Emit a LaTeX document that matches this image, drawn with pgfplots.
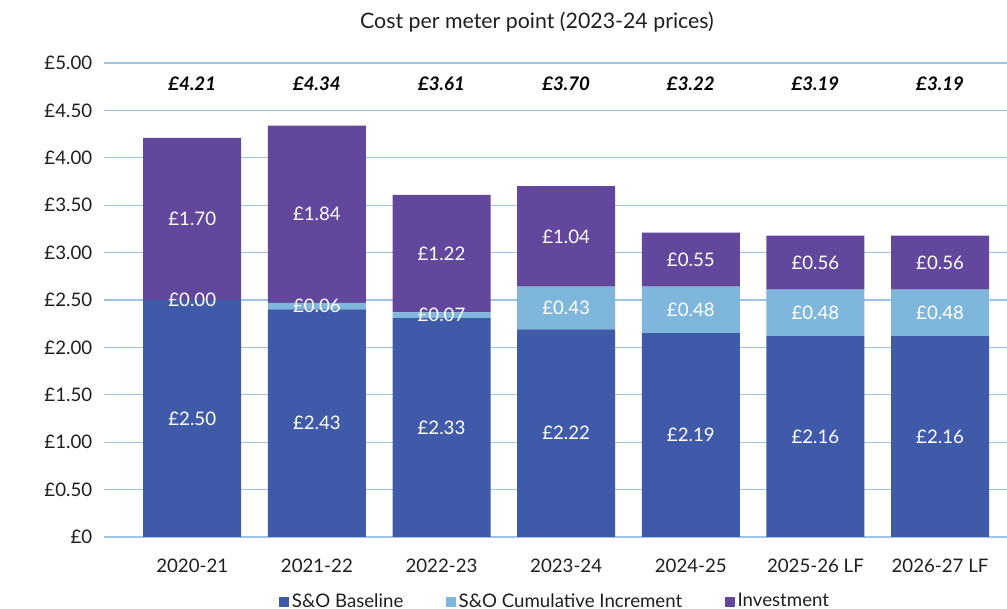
\documentclass[border=0pt]{standalone}
\usepackage{fontspec}
\setmainfont{Lato}
\usepackage{pgfplots}
\pgfplotsset{compat=1.18}
\definecolor{cBase}{RGB}{63,90,168}
\definecolor{cInc}{RGB}{127,182,219}
\definecolor{cInv}{RGB}{98,71,156}
\definecolor{cGrid}{RGB}{157,195,230}
\definecolor{cText}{RGB}{30,30,30}

\pgfplotstableread{
x base inc inv
0 2.50 0.00 1.71
1 2.40 0.07 1.87
2 2.31 0.06 1.24
3 2.19 0.45 1.06
4 2.15 0.49 0.57
5 2.12 0.49 0.57
6 2.12 0.49 0.57
}\costdata

\pgfplotstableread{
x y lab
0 1.250 £2.50
1 1.200 £2.43
2 1.155 £2.33
3 1.095 £2.22
4 1.075 £2.19
5 1.060 £2.16
6 1.060 £2.16
0 2.500 £0.00
1 2.435 £0.06
2 2.340 £0.07
3 2.415 £0.43
4 2.395 £0.48
5 2.365 £0.48
6 2.365 £0.48
0 3.355 £1.70
1 3.405 £1.84
2 2.990 £1.22
3 3.170 £1.04
4 2.925 £0.55
5 2.895 £0.56
6 2.895 £0.56
}\seglabels

\pgfplotstableread{
x y lab
0 4.78 £4.21
1 4.78 £4.34
2 4.78 £3.61
3 4.78 £3.70
4 4.78 £3.22
5 4.78 £3.19
6 4.78 £3.19
}\totlabels

\newcommand{\fsz}{\fontsize{14pt}{17pt}\selectfont}
\pgfplotsset{
  common/.style={
    at={(78pt,54pt)}, anchor=south west,
    width=677.25pt, height=355.5pt, scale only axis,
    xmin=-0.708, xmax=6.537, ymin=0, ymax=5,
    tick label style={font=\fsz},
  }
}

\begin{document}
\fsz
\color{cText}
\begin{tikzpicture}[font=\fsz]
\useasboundingbox (0,0) rectangle (755.25pt,456.75pt);
\begin{axis}[common,
  ybar stacked, bar width=73.5pt,
  axis line style={draw=none},
  major tick length=0pt,
  ymajorgrids, grid style={cGrid, line width=0.9pt},
  ytick={0,0.5,...,5},
  yticklabels={£0,£0.50,£1.00,£1.50,£2.00,£2.50,£3.00,£3.50,£4.00,£4.50,£5.00},
  xtick={0,...,6},
  xticklabels={2020-21,2021-22,2022-23,2023-24,2024-25,2025-26 LF,2026-27 LF},
  yticklabel style={xshift=-4pt},
  xticklabel style={yshift=-11.5pt},
  title={Cost per meter point (2023-24 prices)},
  title style={font=\fontsize{16pt}{19pt}\selectfont, at={(axis description cs:0.5,1)}, anchor=center, yshift=24.75pt, xshift=-13.9pt},
  legend style={font=\fsz, at={(0.5,0)}, anchor=center, yshift=-48.5pt, draw=none, fill=none,
    legend columns=3, /tikz/every even column/.append style={column sep=30pt},
    legend cell align=left},
  legend image code/.code={\fill[#1] (0pt,-3.75pt) rectangle (7.5pt,3.75pt);},
]
\addplot[fill=cBase, draw=none] table[x=x, y=base] {\costdata};
\addlegendentry{S\&O Baseline}
\addplot[fill=cInc, draw=none] table[x=x, y=inc] {\costdata};
\addlegendentry{S\&O Cumulative Increment}
\addplot[fill=cInv, draw=none] table[x=x, y=inv] {\costdata};
\addlegendentry{Investment}
\end{axis}
\begin{axis}[common, hide axis]
\addplot[draw=none, mark=none, nodes near coords, point meta=explicit symbolic,
  nodes near coords style={anchor=center, text=white, font=\fsz}] table[x=x, y=y, meta=lab] {\seglabels};
\addplot[draw=none, mark=none, nodes near coords, point meta=explicit symbolic,
  nodes near coords style={anchor=center, text=black, font=\fsz\bfseries\itshape}] table[x=x, y=y, meta=lab] {\totlabels};
\end{axis}
\end{tikzpicture}
\end{document}
